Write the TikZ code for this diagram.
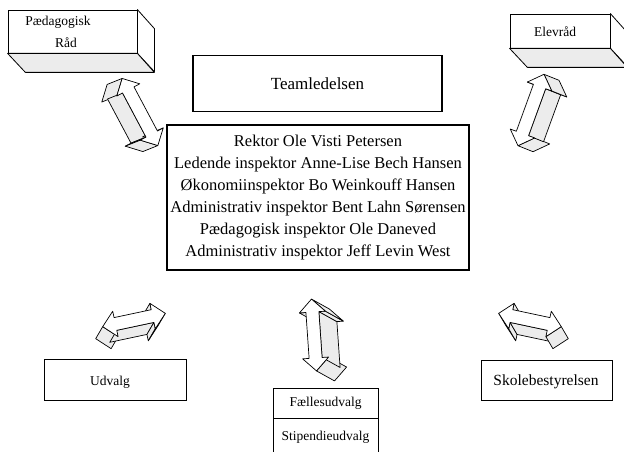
\documentclass[tikz,border=0pt]{standalone}
\usepackage{fontspec}
\setmainfont{Liberation Serif}
\usetikzlibrary{calc}
\tikzset{
  thickbox/.style={draw, line width=1.6pt, rectangle, inner sep=0pt},
  thinbox/.style={draw, line width=0.8pt, rectangle, inner sep=0pt},
  lbl/.style={font=\fontsize{13.5}{16}\selectfont, inner sep=0pt},
  face/.style={fill=white, draw, line width=0.8pt, line join=round},
  shadeface/.style={fill=gray!15, draw, line width=0.8pt, line join=round},
  arrside/.style={fill=gray!15, draw, line width=0.7pt, line join=round},
  arrback/.style={fill=gray!15},
  arrfront/.style={fill=white, draw, line width=0.7pt, line join=round},
}
\def\aw{6.5}\def\ah{13}\def\ak{13}
% 3D double arrow: centre x, centre y, angle, half length, extrusion x, extrusion y
\newcommand\tdarrow[6]{%
  \pgfmathsetmacro\tdux{cos(#3)}%
  \pgfmathsetmacro\tduy{sin(#3)}%
  \foreach \pa/\pb [count=\pn] in {-#4/0, -#4+\ak/\ah, -#4+\ak/\aw, #4-\ak/\aw, #4-\ak/\ah, #4/0, #4-\ak/-\ah, #4-\ak/-\aw, -#4+\ak/-\aw, -#4+\ak/-\ah}{%
    \pgfmathsetmacro\gx{#1+(\pa)*\tdux-(\pb)*\tduy}%
    \pgfmathsetmacro\gy{#2+(\pa)*\tduy+(\pb)*\tdux}%
    \expandafter\xdef\csname tdx\pn\endcsname{\gx}%
    \expandafter\xdef\csname tdy\pn\endcsname{\gy}%
    \coordinate (tdq\pn) at (\gx,\gy);
    \coordinate (tdr\pn) at ({\gx+(#5)},{\gy+(#6)});
  }%
  \fill[arrback] (tdr1) -- (tdr2) -- (tdr3) -- (tdr4) -- (tdr5) -- (tdr6) -- (tdr7) -- (tdr8) -- (tdr9) -- (tdr10) -- cycle;
  \foreach \pn in {1,...,10}{%
    \pgfmathtruncatemacro\pnx{mod(\pn,10)+1}%
    \edef\xa{\csname tdx\pn\endcsname}\edef\ya{\csname tdy\pn\endcsname}%
    \edef\xb{\csname tdx\pnx\endcsname}\edef\yb{\csname tdy\pnx\endcsname}%
    \pgfmathsetmacro\tdvis{-(\yb-\ya)*(#5)+(\xb-\xa)*(#6)}%
    \ifdim\tdvis pt>0pt
      \filldraw[arrside] (\xa,\ya) -- (\xb,\yb) -- ({\xb+(#5)},{\yb+(#6)}) -- ({\xa+(#5)},{\ya+(#6)}) -- cycle;
    \fi
  }%
  \filldraw[arrfront] (tdq1) -- (tdq2) -- (tdq3) -- (tdq4) -- (tdq5) -- (tdq6) -- (tdq7) -- (tdq8) -- (tdq9) -- (tdq10) -- cycle;
}
\begin{document}
\begin{tikzpicture}[x=1pt,y=-1pt]
\useasboundingbox (0,0) rectangle (624,452);
\fill[white] (0,0) rectangle (624,452);

% Paedagogisk Raad (3D box)
\node[thinbox, fill=white, minimum width=129pt, minimum height=43pt] (pr) at (72.5,31.5) {};
\draw[face] (pr.north east) -- ++(17,19) -- ++(0,43) -- (pr.south east) -- cycle;
\draw[shadeface] (pr.south west) -- (pr.south east) -- ++(17,19) -- ++(-129,0) -- cycle;
\node[lbl] (prt1) at (58,22) {Pædagogisk};
\node[lbl] (prt2) at (66,43) {Råd};

% Elevraad (3D box)
\node[thinbox, fill=white, minimum width=100pt, minimum height=34pt] (er) at (560,31) {};
\draw[face] (er.north east) -- ++(17,19) -- ++(0,34) -- (er.south east) -- cycle;
\draw[shadeface] (er.south west) -- (er.south east) -- ++(17,19) -- ++(-100,0) -- cycle;
\node[lbl] (ert) at (555,32) {Elevråd};

% Teamledelsen
\node[thickbox, minimum width=249pt, minimum height=56pt, font=\fontsize{17}{20}\selectfont] (team) at (317.5,83.5) {Teamledelsen};

% Main box
\node[thickbox, minimum width=302pt, minimum height=145pt, align=center, font=\fontsize{16.5}{22}\selectfont] (main) at (318,197.5)
 {Rektor Ole Visti Petersen\\
  Ledende inspektor Anne-Lise Bech Hansen\\
  Økonomiinspektor Bo Weinkouff Hansen\\
  Administrativ inspektor Bent Lahn Sørensen\\
  Pædagogisk inspektor Ole Daneved\\
  Administrativ inspektor Jeff Levin West};

% Udvalg
\node[thinbox, minimum width=142pt, minimum height=41pt] (udv) at (115,379.5) {};
\node[lbl] (udvt) at (110,382) {Udvalg};

% Skolebestyrelsen
\node[thinbox, minimum width=131pt, minimum height=40pt] (sko) at (546.5,380) {};
\node[lbl, font=\fontsize{15.5}{18}\selectfont] (skot) at (546,382) {Skolebestyrelsen};

% Faellesudvalg / Stipendieudvalg
\node[thinbox, minimum width=105pt, minimum height=30pt, font=\fontsize{13.5}{16}\selectfont] (fu) at (325.5,403) {Fællesudvalg};
\node[thinbox, minimum width=105pt, minimum height=40pt, anchor=north] (su) at (fu.south) {};
\node[lbl] (sut) at (325.5,437) {Stipendieudvalg};

% 3D double arrows
\tdarrow{140}{112}{62}{38}{-15}{6}
\tdarrow{531}{110}{110}{38}{15}{6}
\tdarrow{134}{320}{-12}{32}{-7}{12}
\tdarrow{530}{320}{192}{32}{7}{12}
\tdarrow{314}{335}{86}{36}{18}{10}
\end{tikzpicture}
\end{document}
